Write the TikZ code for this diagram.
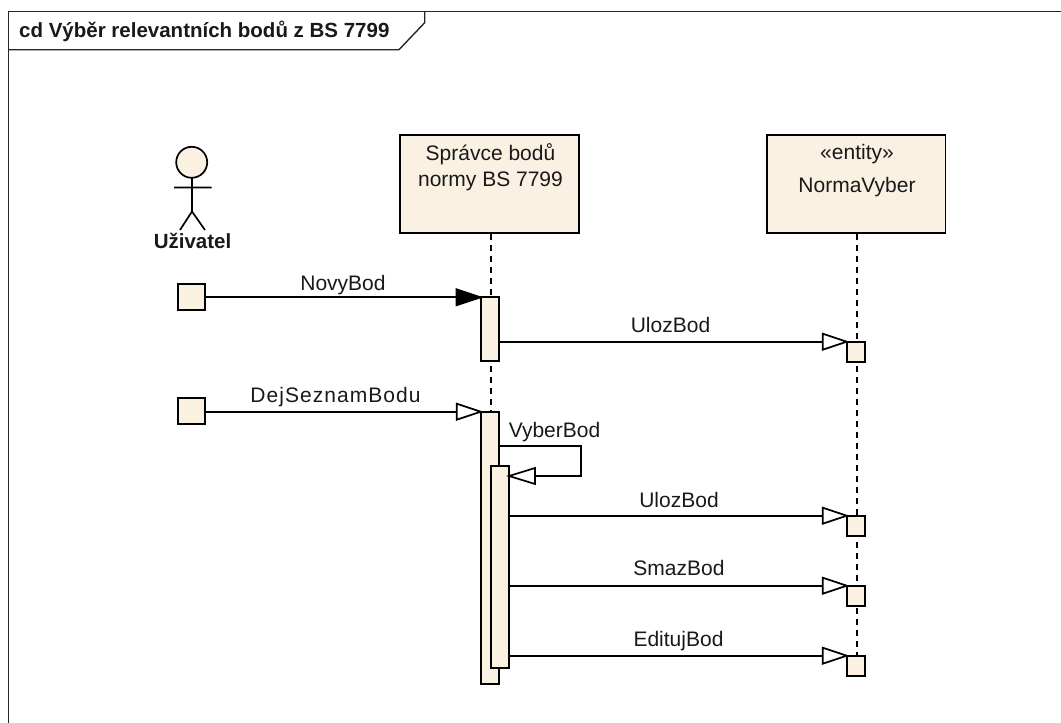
\documentclass[tikz,border=0pt]{standalone}
\usepackage{fontspec}
\setmainfont{Liberation Sans}
\definecolor{ea}{HTML}{FBF1E3}
\tikzset{
  x=1pt,y=-1pt,
  ln/.style={line width=1.7pt,black},
  lifeline/.style={line width=1.5pt,black,dash pattern=on 6pt off 5pt},
  box/.style={draw,ln,fill=ea,inner sep=0pt,outer sep=0pt,anchor=north west},
  lbl/.style={font=\fontsize{21}{24}\selectfont,inner sep=0pt,anchor=base,text=black!90},
  bold/.style={font=\fontsize{20.5}{24}\bfseries\selectfont,inner sep=0pt,text=black!90},
  opent/.style={draw,ln,fill=white},
}
\newcommand{\opentip}[2]{\draw[opent] (#1,#2) -- (#1-24,#2-8) -- (#1-24,#2+8) -- cycle;}
\begin{document}
\begin{tikzpicture}
\useasboundingbox (0,0) rectangle (1061,723);
% frame
\draw[line width=1.4pt,black!85] (8.4,723) -- (8.4,11.3) -- (1061,11.3);
\draw[line width=1.4pt,black!85] (8.4,49.7) -- (399,49.7) -- (424.7,22.7) -- (424.7,11.3);
\node[bold,anchor=base west] (title) at (19,37) {cd Výběr relevantních bodů z BS 7799};
% lifelines
\coordinate (ll1t) at (491,234);
\coordinate (ll1b) at (491,412);
\coordinate (ll2t) at (857,234);
\coordinate (ll2b) at (857,656);
\draw[lifeline] (ll1t) -- (ll1b);
\draw[lifeline] (ll2t) -- (ll2b);
% heads
\node[box,minimum width=178.7pt,minimum height=98pt] (spravce) at (400.3,135.3) {};
\node[lbl] (s1) at (490.5,160) {Správce bodů};
\node[lbl] (s2) at (490.5,186) {normy BS 7799};
\node[box,minimum width=178.7pt,minimum height=98pt] (norma) at (766.7,135.3) {};
\node[lbl] (n1) at (857,159.5) {«entity»};
\node[lbl] (n2) at (857,192.5) {NormaVyber};
% actor
\draw[ln,fill=ea] (191.7,162.3) circle (15.5);
\coordinate (neck) at (192,177.8);
\coordinate (hip) at (192,211.5);
\draw[ln] (neck) -- (hip) (174,187.5) -- (211.5,187.5) (180,230) -- (hip) -- (205,230);
\node[bold,anchor=base] (uziv) at (192.5,248) {Uživatel};
% activations
\node[box,minimum width=18.3pt,minimum height=63.7pt] (a1) at (480.7,297.3) {};
\node[box,minimum width=18.3pt,minimum height=272.3pt] (a2) at (480.7,411.7) {};
\node[box,minimum width=18.3pt,minimum height=202.3pt] (a3) at (490.7,465.7) {};
\node[box,minimum width=26.7pt,minimum height=26.3pt] (g1) at (178.3,283.7) {};
\node[box,minimum width=26.7pt,minimum height=26.3pt] (g2) at (178.3,397.7) {};
\node[box,minimum width=18.6pt,minimum height=20.2pt] (t1) at (846.7,341.7) {};
\node[box,minimum width=18.6pt,minimum height=20.2pt] (t2) at (846.7,515.7) {};
\node[box,minimum width=18.6pt,minimum height=20.2pt] (t3) at (846.7,585.7) {};
\node[box,minimum width=18.6pt,minimum height=20.2pt] (t4) at (846.7,655.7) {};
% messages
\draw[ln] (g1.east |- 0,297.3) -- (457,297.3);
\draw[ln,fill=black] (480.7,297.3) -- (456.5,289.3) -- (456.5,305.3) -- cycle;
\draw[ln] (g2.east |- 0,411.7) -- (457,411.7);
\opentip{480.7}{411.7}
\draw[ln] (a1.east |- 0,341.7) -- (823,341.7);
\opentip{846.7}{341.7}
\draw[ln] (a2.east |- 0,445.7) -- (581,445.7) -- (581,476) -- (535,476);
\draw[opent] (a3.east |- 0,476) -- (535,468) -- (535,484) -- cycle;
\draw[ln] (a3.east |- 0,515.7) -- (823,515.7);
\opentip{846.7}{515.7}
\draw[ln] (a3.east |- 0,585.7) -- (823,585.7);
\opentip{846.7}{585.7}
\draw[ln] (a3.east |- 0,655.7) -- (823,655.7);
\opentip{846.7}{655.7}
% labels
\node[lbl] (m1) at (343,290) {NovyBod};
\node[lbl] (m2) at (670.5,332) {UlozBod};
\node[lbl] (m3) at (335.5,402.5) {\addfontfeature{LetterSpace=5}DejSeznamBodu};
\node[lbl] (m4) at (554.5,437.5) {VyberBod};
\node[lbl] (m5) at (679,507) {UlozBod};
\node[lbl] (m6) at (679,575.5) {SmazBod};
\node[lbl] (m7) at (678.5,646) {EditujBod};
\end{tikzpicture}
\end{document}
